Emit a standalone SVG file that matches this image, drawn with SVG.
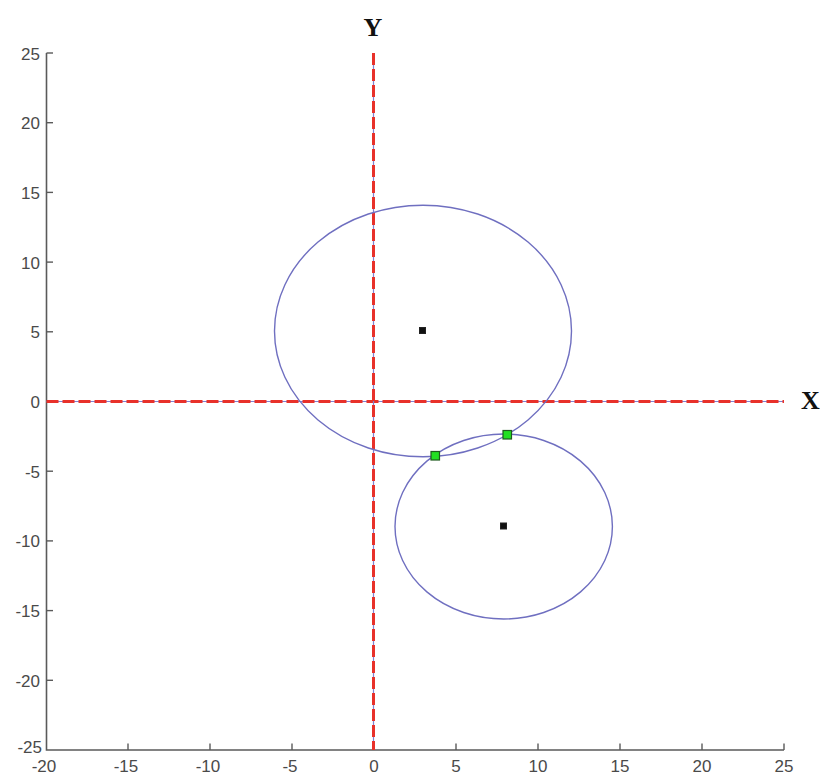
<svg xmlns="http://www.w3.org/2000/svg" width="820" height="778" viewBox="0 0 820 778">
<style>
.tick{font-family:"Liberation Sans",Arial,sans-serif;font-size:17px;fill:#4a4a4a}
.axl{font-family:"Liberation Serif","Times New Roman",serif;font-size:26px;font-weight:bold;fill:#111}
.frame{stroke:#5a5a5a;stroke-width:1.6;fill:none}
.tk{stroke:#5a5a5a;stroke-width:1.4}
.base{stroke:#8080d0;stroke-width:1.2}
.dash{stroke:#e8312a;stroke-width:3;stroke-dasharray:12 4}
.circ{fill:none;stroke:#6f6fc0;stroke-width:1.4}
.ctr{fill:#111;stroke:#222;stroke-width:1}
.pt{fill:#22e022;stroke:#1f5a1f;stroke-width:1.2}
</style>
<rect width="820" height="778" fill="#ffffff"/>
<g id="axes-frame">
<path class="frame" d="M46.5,53 V750 H784"/>
<g class="tk">
<line x1="46.5" y1="53" x2="53" y2="53"/>
<line x1="46.5" y1="122.7" x2="53" y2="122.7"/>
<line x1="46.5" y1="192.4" x2="53" y2="192.4"/>
<line x1="46.5" y1="262.1" x2="53" y2="262.1"/>
<line x1="46.5" y1="331.8" x2="53" y2="331.8"/>
<line x1="46.5" y1="401.5" x2="53" y2="401.5"/>
<line x1="46.5" y1="471.2" x2="53" y2="471.2"/>
<line x1="46.5" y1="540.9" x2="53" y2="540.9"/>
<line x1="46.5" y1="610.6" x2="53" y2="610.6"/>
<line x1="46.5" y1="680.3" x2="53" y2="680.3"/>
<line x1="128" y1="750" x2="128" y2="743.5"/>
<line x1="210" y1="750" x2="210" y2="743.5"/>
<line x1="292" y1="750" x2="292" y2="743.5"/>
<line x1="374" y1="750" x2="374" y2="743.5"/>
<line x1="456" y1="750" x2="456" y2="743.5"/>
<line x1="538" y1="750" x2="538" y2="743.5"/>
<line x1="620" y1="750" x2="620" y2="743.5"/>
<line x1="702" y1="750" x2="702" y2="743.5"/>
<line x1="784" y1="750" x2="784" y2="743.5"/>
</g>
<g class="tick" text-anchor="end">
<text x="40" y="59.5">25</text>
<text x="40" y="129">20</text>
<text x="40" y="199">15</text>
<text x="40" y="268.5">10</text>
<text x="40" y="338">5</text>
<text x="40" y="408">0</text>
<text x="40" y="477.5">-5</text>
<text x="40" y="547">-10</text>
<text x="40" y="617">-15</text>
<text x="40" y="686.5">-20</text>
<text x="42" y="753">-25</text>
</g>
<g class="tick" text-anchor="middle">
<text x="44" y="772">-20</text>
<text x="126" y="772">-15</text>
<text x="208" y="772">-10</text>
<text x="290" y="772">-5</text>
<text x="374" y="772">0</text>
<text x="456" y="772">5</text>
<text x="538" y="772">10</text>
<text x="620" y="772">15</text>
<text x="702" y="772">20</text>
<text x="784" y="772">25</text>
</g>
</g>
<g id="connectors">
<line class="base" x1="46.5" y1="401.5" x2="784" y2="401.5"/>
<line class="dash" x1="46.5" y1="401.5" x2="784" y2="401.5"/>
<line class="base" x1="373.5" y1="53" x2="373.5" y2="750"/>
<line class="dash" x1="373.5" y1="53" x2="373.5" y2="750"/>
</g>
<g id="label-y"><text class="axl" x="373" y="36" text-anchor="middle">Y</text></g>
<g id="label-x"><text class="axl" x="801" y="409">X</text></g>
<g id="circle-1">
<ellipse class="circ" cx="423" cy="331" rx="148.5" ry="125.8"/>
<rect class="ctr" x="419.5" y="327.5" width="6" height="6"/>
</g>
<g id="circle-2">
<ellipse class="circ" cx="503.7" cy="526.5" rx="108.7" ry="92.5"/>
<rect class="ctr" x="500.5" y="523" width="6" height="6"/>
</g>
<g id="intersection-1"><rect class="pt" x="431" y="451.5" width="8.5" height="8.5"/></g>
<g id="intersection-2"><rect class="pt" x="503" y="430.5" width="8.5" height="8.5"/></g>
</svg>
